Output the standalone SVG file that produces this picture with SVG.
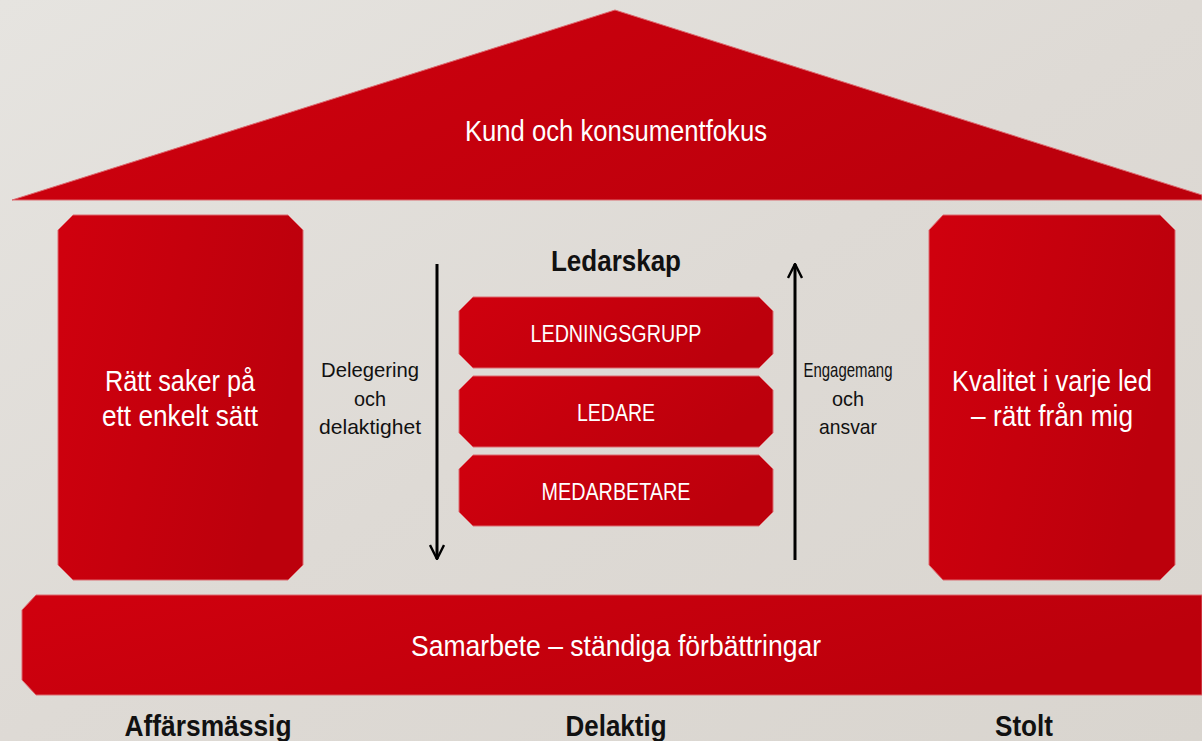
<svg xmlns="http://www.w3.org/2000/svg" width="1202" height="741" viewBox="0 0 1202 741">
<defs>
<linearGradient id="red" x1="0" y1="0" x2="1" y2="0.3">
<stop offset="0" stop-color="#d0000e"/>
<stop offset="0.5" stop-color="#c6000d"/>
<stop offset="1" stop-color="#bc000c"/>
</linearGradient>
<linearGradient id="bg" x1="0" y1="0" x2="1" y2="1">
<stop offset="0" stop-color="#e6e4e0"/>
<stop offset="0.5" stop-color="#dedad5"/>
<stop offset="1" stop-color="#d9d5cf"/>
</linearGradient>
<marker id="arrow" viewBox="0 0 16 16" refX="15" refY="8" markerWidth="16" markerHeight="16" markerUnits="userSpaceOnUse" orient="auto">
<path d="M1,1 L15,8 L1,15" fill="none" stroke="#000" stroke-width="2.4"/>
</marker>
</defs>
<style>
.shape{fill:url(#red);stroke:#dc6a70;stroke-width:1}
.w{fill:#fff;font-family:"Liberation Sans Narrow","Liberation Sans",Arial,sans-serif;text-anchor:middle}
.k{fill:#111;font-family:"Liberation Sans Narrow","Liberation Sans",Arial,sans-serif;text-anchor:middle}
.b{font-weight:bold}
.line{stroke:#000;stroke-width:3;fill:none}
</style>
<rect width="1202" height="741" fill="url(#bg)"/>

<g id="roof">
<polygon class="shape" points="615,10 1202,195 1202,200 12,200"/>
<text class="w" x="616" y="141" font-size="29" textLength="302" lengthAdjust="spacingAndGlyphs">Kund och konsumentfokus</text>
</g>

<g id="pillar-left">
<polygon class="shape" points="73,215 288,215 303,230 303,565 288,580 73,580 58,565 58,230"/>
<text class="w" x="180" y="391" font-size="29" textLength="150" lengthAdjust="spacingAndGlyphs">Rätt saker på</text>
<text class="w" x="180" y="426" font-size="29" textLength="156" lengthAdjust="spacingAndGlyphs">ett enkelt sätt</text>
</g>

<g id="pillar-right">
<polygon class="shape" points="943,215 1160,215 1175,230 1175,565 1160,580 943,580 929,565 929,230"/>
<text class="w" x="1052" y="391" font-size="29" textLength="200" lengthAdjust="spacingAndGlyphs">Kvalitet i varje led</text>
<text class="w" x="1052" y="426" font-size="29" textLength="162" lengthAdjust="spacingAndGlyphs">– rätt från mig</text>
</g>

<g id="ledarskap">
<text class="k b" x="616" y="271" font-size="29" textLength="130" lengthAdjust="spacingAndGlyphs">Ledarskap</text>
</g>

<g id="ledningsgrupp">
<polygon class="shape" points="473,297 759,297 773,311 773,354 759,368 473,368 459,354 459,311"/>
<text class="w" x="616" y="342" font-size="23" textLength="171" lengthAdjust="spacingAndGlyphs">LEDNINGSGRUPP</text>
</g>
<g id="ledare">
<polygon class="shape" points="473,376 759,376 773,390 773,433 759,447 473,447 459,433 459,390"/>
<text class="w" x="616" y="421" font-size="23" textLength="78" lengthAdjust="spacingAndGlyphs">LEDARE</text>
</g>
<g id="medarbetare">
<polygon class="shape" points="473,455 759,455 773,469 773,512 759,526 473,526 459,512 459,469"/>
<text class="w" x="616" y="500" font-size="23" textLength="149" lengthAdjust="spacingAndGlyphs">MEDARBETARE</text>
</g>

<g id="delegering">
<text class="k" x="370" y="377" font-size="21" textLength="98" lengthAdjust="spacingAndGlyphs">Delegering</text>
<text class="k" x="370" y="406" font-size="21" textLength="32" lengthAdjust="spacingAndGlyphs">och</text>
<text class="k" x="370" y="434" font-size="21" textLength="102" lengthAdjust="spacingAndGlyphs">delaktighet</text>
</g>
<g id="engagemang">
<text class="k" x="848" y="377" font-size="21" textLength="89" lengthAdjust="spacingAndGlyphs">Engagemang</text>
<text class="k" x="848" y="406" font-size="21" textLength="32" lengthAdjust="spacingAndGlyphs">och</text>
<text class="k" x="848" y="434" font-size="21" textLength="58" lengthAdjust="spacingAndGlyphs">ansvar</text>
</g>

<g id="connectors">
<line class="line" x1="437" y1="264" x2="437" y2="559" marker-end="url(#arrow)"/>
<line class="line" x1="795" y1="560" x2="795" y2="264" marker-end="url(#arrow)"/>
</g>

<g id="foundation">
<polygon class="shape" points="36,595 1202,595 1202,695 36,695 22,680 22,610"/>
<text class="w" x="616" y="656" font-size="29" textLength="410" lengthAdjust="spacingAndGlyphs">Samarbete – ständiga förbättringar</text>
</g>

<g id="labels">
<text class="k b" x="208" y="736" font-size="29" textLength="167" lengthAdjust="spacingAndGlyphs">Affärsmässig</text>
<text class="k b" x="616" y="736" font-size="29" textLength="101" lengthAdjust="spacingAndGlyphs">Delaktig</text>
<text class="k b" x="1024" y="736" font-size="29" textLength="58" lengthAdjust="spacingAndGlyphs">Stolt</text>
</g>
</svg>
